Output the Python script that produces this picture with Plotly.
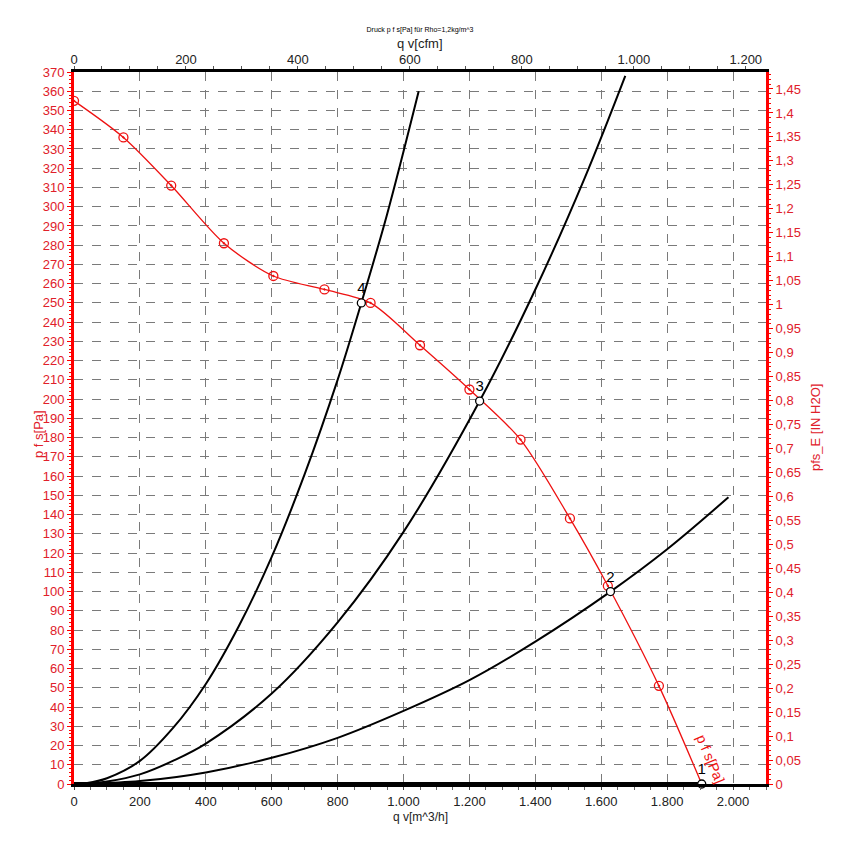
import plotly.graph_objects as go

# ---------------- data ----------------
M3H_PER_CFM = 1.699
PA_PER_INH2O = 249.089

# fan curve p f s [Pa] vs q v [m^3/h]
fan_q = [0, 150, 295, 455, 605, 760, 900, 1050, 1200, 1355, 1505, 1620, 1775, 1905]
fan_p = [355, 336, 311, 281, 264, 257, 250, 228, 205, 179, 138, 103, 51, 0]
marker_q = [0, 150, 295, 455, 605, 760, 900, 1050, 1200, 1355, 1505, 1620, 1775]
marker_p = [355, 336, 311, 281, 264, 257, 250, 228, 205, 179, 138, 103, 51]

# system (resistance) curves
sys4_q = [0, 40, 100, 200, 300, 400, 500, 600, 700, 800, 872, 950, 1046]
sys4_p = [0, 0.5, 3, 12, 29, 52, 82, 118, 161, 210, 250, 296, 360]
sys3_q = [0, 40, 100, 200, 300, 400, 600, 800, 1000, 1231, 1400, 1550, 1673]
sys3_p = [0, 0.2, 1.3, 5, 12, 21, 47, 84, 131, 199, 257, 315, 368]
sys2_q = [0, 40, 200, 400, 600, 800, 1000, 1200, 1400, 1628, 1800, 1986]
sys2_p = [0, 0.1, 1.5, 6, 13.6, 24, 38, 54, 74, 100, 122, 149]
sys1_q = [0, 1905]
sys1_p = [0, 0]

# operating points
op_q = [1905, 1628, 1231, 872]
op_p = [0, 100, 199, 250]
op_labels = ["1", "2", "3", "4"]

# ticks
x_ticks = [0, 200, 400, 600, 800, 1000, 1200, 1400, 1600, 1800, 2000]
x_ticktext = ["0", "200", "400", "600", "800", "1.000", "1.200", "1.400", "1.600", "1.800", "2.000"]
cfm_ticks = [0, 200, 400, 600, 800, 1000, 1200]
cfm_ticktext = ["0", "200", "400", "600", "800", "1.000", "1.200"]
inh2o_ticks = [i * 0.05 for i in range(30)]
inh2o_ticktext = ["0", "0,05", "0,1", "0,15", "0,2", "0,25", "0,3", "0,35", "0,4", "0,45",
                  "0,5", "0,55", "0,6", "0,65", "0,7", "0,75", "0,8", "0,85", "0,9", "0,95",
                  "1", "1,05", "1,1", "1,15", "1,2", "1,25", "1,3", "1,35", "1,4", "1,45"]

X_MAX = 2100
Y_MAX = 370

RED = "#ee1111"
RED_TXT = "#e0202a"
FONT = "Liberation Sans, Arial, sans-serif"

W, H = 836, 839  # page body has an 8px margin

fig = go.Figure()

for q, p in [(sys4_q, sys4_p), (sys3_q, sys3_p), (sys2_q, sys2_p), (sys1_q, sys1_p)]:
    fig.add_trace(go.Scatter(x=q, y=p, mode="lines", line=dict(color="black", width=2 if p is not sys1_p else 4),
                             line_shape="spline", showlegend=False, hoverinfo="skip"))

fig.add_trace(go.Scatter(x=fan_q, y=fan_p, mode="lines", line=dict(color=RED, width=1.3, shape="spline", smoothing=0.8),
                         showlegend=False, hoverinfo="skip"))
fig.add_trace(go.Scatter(x=marker_q, y=marker_p, mode="markers",
                         marker=dict(symbol="circle-open-dot", size=9, color=RED, line=dict(width=1.3, color=RED)),
                         showlegend=False, hoverinfo="skip"))

fig.add_trace(go.Scatter(x=op_q, y=op_p, mode="markers+text", text=op_labels, textposition="top center",
                         textfont=dict(family=FONT, size=15, color="black"),
                         marker=dict(symbol="circle", size=8, color="white", line=dict(width=1.3, color="black")),
                         showlegend=False, hoverinfo="skip", cliponaxis=False))

# dummy trace to bind secondary axes
fig.add_trace(go.Scatter(x=[], y=[], xaxis="x2", yaxis="y2", showlegend=False, hoverinfo="skip"))

tickfont = dict(family=FONT, size=13, color="#222222")
redfont = dict(family=FONT, size=13, color=RED_TXT)

fig.update_layout(
    width=W, height=H,
    margin=dict(l=66, r=78, t=64, b=63),
    paper_bgcolor="white", plot_bgcolor="white",
    showlegend=False,
    font=dict(family=FONT),
    xaxis=dict(range=[0, X_MAX], tickvals=x_ticks, ticktext=x_ticktext, tickfont=tickfont,
               showgrid=True, gridcolor="#7a7a7a", griddash="dash", gridwidth=1,
               showline=True, linecolor="black", linewidth=3, zeroline=False,
               ticks="outside", ticklen=3, tickcolor="#444444",
               minor=dict(dtick=50, ticks="outside", ticklen=3, tickcolor="#666666", showgrid=False),
               automargin=False),
    yaxis=dict(range=[0, Y_MAX], dtick=10, tick0=0, tickfont=redfont,
               showgrid=True, gridcolor="#7a7a7a", griddash="dash", gridwidth=1,
               showline=True, linecolor="red", linewidth=3, zeroline=False,
               ticks="outside", ticklen=4, tickcolor="red",
               minor=dict(dtick=2, ticks="outside", ticklen=2, tickcolor="red", showgrid=False),
               automargin=False),
    xaxis2=dict(overlaying="x", side="top", range=[0, X_MAX / M3H_PER_CFM],
                tickvals=cfm_ticks, ticktext=cfm_ticktext, tickfont=tickfont,
                showgrid=False, showline=True, linecolor="black", linewidth=3, zeroline=False,
                ticks="outside", ticklen=0, tickcolor="#555555",
                minor=dict(dtick=50, ticks="outside", ticklen=3, tickcolor="#555555", showgrid=False),
                automargin=False),
    yaxis2=dict(overlaying="y", side="right", range=[0, Y_MAX / PA_PER_INH2O],
                tickvals=inh2o_ticks, ticktext=inh2o_ticktext, tickfont=redfont,
                showgrid=False, showline=True, linecolor="red", linewidth=3, zeroline=False,
                ticks="outside", ticklen=4, tickcolor="red",
                minor=dict(dtick=0.01, ticks="outside", ticklen=2, tickcolor="red", showgrid=False),
                automargin=False),
    title=dict(text="Druck p f s[Pa] für Rho=1,2kg/m^3", x=0.5, xref="paper", y=1 - 22 / H, yanchor="middle",
               font=dict(family=FONT, size=7, color="black")),
)

ann = [
    dict(text="q v[cfm]", xref="paper", yref="paper", x=0.5, y=1, yshift=29, yanchor="middle", xanchor="center",
         showarrow=False, font=dict(family=FONT, size=13, color="#222222")),
    dict(text="q v[m^3/h]", xref="paper", yref="paper", x=0.5, y=0, yshift=-33, yanchor="middle", xanchor="center",
         showarrow=False, font=dict(family=FONT, size=12, color="#222222")),
    dict(text="p f s[Pa]", xref="paper", yref="paper", x=0, y=0.5, xshift=-36, yshift=-6, textangle=-90,
         xanchor="center", yanchor="middle", showarrow=False, font=dict(family=FONT, size=13, color=RED_TXT)),
    dict(text="pfs_E [IN H2O]", xref="paper", yref="paper", x=1, y=0.5, xshift=49, textangle=-90,
         xanchor="center", yanchor="middle", showarrow=False, font=dict(family=FONT, size=13, color=RED_TXT)),
    dict(text="p f s[Pa]", xref="x", yref="y", x=1932, y=13, textangle=67, showarrow=False,
         xanchor="center", yanchor="middle", font=dict(family=FONT, size=14, color=RED)),
]
fig.update_layout(annotations=ann)

fig.write_html("out.html")
